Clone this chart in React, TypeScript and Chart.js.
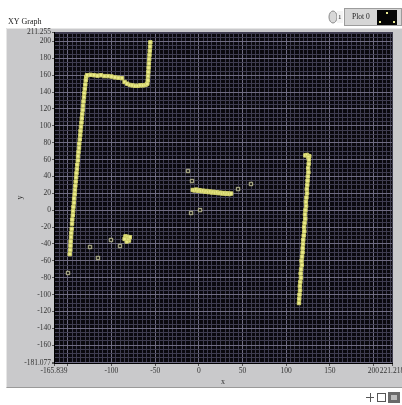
import { useEffect, useRef } from 'react';
import { Chart, registerables } from 'chart.js';

Chart.register(...registerables);

const X_MIN = -165.839;
const X_MAX = 221.218;
const Y_MIN = -181.077;
const Y_MAX = 211.255;

const xLabelValues = [-165.839, -100, -50, 0, 50, 100, 150, 200, 221.218];
const xTickMarkValues = [-165.839, -150, -100, -50, 0, 50, 100, 150, 200, 221.218];
const yLabelValues = [-181.077, -160, -140, -120, -100, -80, -60, -40, -20, 0, 20, 40, 60, 80, 100, 120, 140, 160, 180, 200, 211.255];

// Plot 0: the dense yellow traces
const leftWall: [number, number][] = [
  [-147.8, -52], [-147.2, -47], [-147.0, -42], [-146.8, -37], [-146.3, -32], [-146.0, -27], [-145.6, -22],
  [-145.2, -16], [-144.9, -11], [-144.3, -6], [-144.0, -1], [-143.6, 4], [-143.1, 9], [-142.8, 14],
  [-142.2, 19], [-141.9, 24], [-141.4, 29], [-141.0, 34], [-140.5, 39], [-140.1, 44], [-139.6, 49],
  [-139.2, 54], [-138.6, 59], [-138.3, 64], [-137.8, 69], [-137.2, 74], [-136.9, 79], [-136.3, 84],
  [-135.8, 89], [-135.5, 94], [-135.0, 99], [-134.4, 104], [-134.0, 109], [-133.5, 114], [-133.0, 119],
  [-132.6, 124], [-132.1, 129], [-131.5, 134], [-131.1, 139], [-130.6, 144], [-130.0, 149], [-129.5, 154],
  [-129.0, 158],
];
const topEdge: [number, number][] = [
  [-128, 160], [-124, 160.5], [-120, 160], [-116, 159.5], [-112, 160], [-108, 159], [-104, 159],
  [-100, 158.5], [-96, 157.5], [-92, 157], [-88, 156.5],
  [-85, 152], [-82, 150], [-79, 148.5], [-76, 148], [-73, 147.5], [-70, 147.5], [-67, 148], [-64, 148],
  [-61, 148.5], [-59, 150],
  [-58.5, 154], [-58.2, 159], [-57.8, 164], [-57.5, 169], [-57.2, 174], [-56.8, 179], [-56.5, 184],
  [-56.2, 189], [-55.8, 194], [-55.5, 199],
];
const blob: [number, number][] = [
  [-84, -31], [-83, -33], [-82, -35], [-81, -33], [-80, -36], [-82.5, -37], [-81.5, -31.5], [-80.5, -34],
  [-85, -34], [-79, -32],
];
const centerBand: [number, number][] = [
  [-7, 24], [-5, 23.5], [-3, 24.5], [-1, 23], [1, 23.8], [3, 22.5], [5, 23.2], [7, 22], [9, 22.8],
  [11, 21.5], [13, 22.2], [15, 21], [17, 21.8], [19, 20.8], [21, 21.3], [23, 20.2], [25, 20.8],
  [27, 19.8], [29, 20.4], [31, 19.5], [33, 20], [35, 19.2], [37, 19.8],
];
const rightWall: [number, number][] = [
  [122, 65], [124, 65.5], [126.5, 64], [125.5, 63], [126.0, 60], [125.8, 55], [125.2, 50], [125.5, 45],
  [124.8, 40], [124.5, 35], [124.2, 30], [123.6, 25], [123.9, 20], [123.2, 15], [122.6, 10], [122.8, 5],
  [122.1, 0], [121.6, -5], [121.9, -10], [121.1, -15], [120.6, -20], [120.8, -25], [120.1, -30],
  [119.6, -35], [119.3, -40], [118.9, -45], [118.8, -50], [118.2, -55], [117.6, -60], [117.9, -65],
  [117.1, -70], [116.6, -75], [116.9, -80], [116.2, -85], [115.7, -90], [115.9, -95], [115.3, -100],
  [115.0, -105], [114.7, -110],
];
// isolated outlier points
const strays: [number, number][] = [
  [-149.8, -74.4], [-124.6, -43.6], [-115.5, -56.6], [-100.6, -35.3], [-90.3, -42.4],
  [-12.4, 46.5], [-7.8, 34.6], [44.9, 25.1], [59.7, 31.1], [1.4, 0.2], [-8.9, -3.3],
];

const FONT = '"Liberation Serif", "DejaVu Serif", serif';

function fmt(v: number): string {
  return Number.isInteger(v) ? String(v) : v.toFixed(3);
}

function gridValues(min: number, max: number, step: number): number[] {
  const out = [min];
  for (let v = Math.ceil(min / step) * step; v <= max; v += step) {
    if (Math.abs(v - min) > 0.5 && Math.abs(v - max) > 0.5) out.push(v);
  }
  out.push(max);
  return out;
}

const panelPlugin = {
  id: 'lvPanel',
  beforeDraw(chart: any) {
    const { ctx, chartArea: a } = chart;
    ctx.save();
    ctx.fillStyle = '#ffffff';
    ctx.fillRect(0, 0, chart.width, chart.height);
    // grey front panel
    ctx.fillStyle = '#c9c9cb';
    ctx.fillRect(6, 28, 400, 360);
    ctx.strokeStyle = '#e6e6e6';
    ctx.beginPath();
    ctx.moveTo(6.5, 388);
    ctx.lineTo(6.5, 28.5);
    ctx.lineTo(402, 28.5);
    ctx.stroke();
    ctx.strokeStyle = '#9a9a9a';
    ctx.beginPath();
    ctx.moveTo(6.5, 387.5);
    ctx.lineTo(402, 387.5);
    ctx.stroke();
    // plot background
    ctx.fillStyle = '#0a090e';
    ctx.fillRect(a.left, a.top, a.right - a.left, a.bottom - a.top);
    // graph label
    ctx.fillStyle = '#222';
    ctx.font = `8px ${FONT}`;
    ctx.textBaseline = 'middle';
    ctx.textAlign = 'left';
    ctx.fillText('XY Graph', 8, 22);
    // plot index control
    ctx.fillStyle = '#d8d8d8';
    ctx.strokeStyle = '#8a8a8a';
    ctx.beginPath();
    ctx.ellipse(333, 17, 4, 6, 0, 0, Math.PI * 2);
    ctx.fill();
    ctx.stroke();
    ctx.fillStyle = '#f4f4f4';
    ctx.fillRect(337, 11, 6, 12);
    ctx.fillStyle = '#222';
    ctx.font = `7px ${FONT}`;
    ctx.fillText('1', 338, 17);
    // plot legend
    ctx.fillStyle = '#d6d6d6';
    ctx.fillRect(344, 8, 58, 18);
    ctx.strokeStyle = '#9c9c9c';
    ctx.strokeRect(344.5, 8.5, 57, 17);
    ctx.fillStyle = '#222';
    ctx.font = `7.5px ${FONT}`;
    ctx.fillText('Plot 0', 352, 17);
    ctx.fillStyle = '#050505';
    ctx.fillRect(377, 10, 20, 15);
    ctx.fillStyle = '#e8e890';
    ctx.fillRect(386, 12, 2, 2);
    ctx.fillRect(379, 21, 2, 2);
    ctx.fillRect(393, 21, 2, 2);
    // tool palette
    ctx.strokeStyle = '#555';
    ctx.beginPath();
    ctx.moveTo(366, 397.5); ctx.lineTo(374, 397.5);
    ctx.moveTo(370.5, 393); ctx.lineTo(370.5, 402);
    ctx.stroke();
    ctx.strokeRect(377.5, 393.5, 8, 8);
    ctx.fillStyle = '#6a6a6a';
    ctx.fillRect(388, 392, 12, 11);
    ctx.fillStyle = '#bbb';
    ctx.fillRect(391, 395, 6, 5);
    ctx.restore();
  },
};

export default function App() {
  const ref = useRef<HTMLCanvasElement>(null);

  useEffect(() => {
    if (!ref.current) return;
    const xGrid = gridValues(X_MIN, X_MAX, 5);
    const yGrid = gridValues(Y_MIN, Y_MAX, 5);
    const xLabels = new Set(xLabelValues);
    const xMarks = new Set(xTickMarkValues);
    const yLabels = new Set(yLabelValues);
    const yMarks = new Set([...yLabelValues, -180]);

    const yellowPts = [...leftWall, ...topEdge, ...blob, ...centerBand, ...rightWall].map(([x, y]) => ({ x, y }));
    const strayPts = strays.map(([x, y]) => ({ x, y }));

    const chart = new Chart(ref.current, {
      type: 'scatter',
      data: {
        datasets: [
          {
            label: 'strays',
            data: strayPts,
            pointStyle: 'rect',
            pointRadius: 2.4,
            borderWidth: 1,
            borderColor: '#bdbd95',
            backgroundColor: '#2a2a22',
          },
          {
            label: 'Plot 0',
            data: yellowPts,
            pointStyle: 'rect',
            pointRadius: 2.4,
            borderWidth: 1,
            borderColor: '#cfcf6a',
            backgroundColor: '#ecec8c',
          },
        ],
      },
      options: {
        animation: false,
        responsive: false,
        devicePixelRatio: 1,
        layout: { padding: { top: 32, left: 0, right: 10, bottom: 0 } },
        plugins: { legend: { display: false }, title: { display: false }, tooltip: { enabled: false } },
        scales: {
          x: {
            type: 'linear',
            min: X_MIN,
            max: X_MAX,
            afterBuildTicks: (s: any) => {
              s.ticks = xGrid.map((v) => ({ value: v }));
            },
            afterFit: (s: any) => {
              s.height = 42;
              s.paddingLeft = 0;
              s.paddingRight = 0;
            },
            grid: {
              color: (c: any) => {
                const v = c.tick ? c.tick.value : 0;
                return Math.abs(v % 50) < 1e-6 ? '#6f6c82' : '#3f3d50';
              },
              lineWidth: 1,
              tickLength: 3,
              tickColor: (c: any) => (c.tick && xMarks.has(c.tick.value) ? '#555' : 'rgba(0,0,0,0)'),
            },
            border: { display: true, color: '#000' },
            ticks: {
              autoSkip: false,
              maxRotation: 0,
              minRotation: 0,
              padding: 1,
              color: '#333',
              font: { family: FONT, size: 7.5 },
              callback: (v: any) => (xLabels.has(v) ? fmt(v) : ''),
            },
            title: {
              display: true,
              text: 'x',
              color: '#333',
              font: { family: FONT, size: 8 },
              padding: { top: 0, bottom: 18 },
            },
          },
          y: {
            type: 'linear',
            min: Y_MIN,
            max: Y_MAX,
            afterBuildTicks: (s: any) => {
              s.ticks = yGrid.map((v) => ({ value: v }));
            },
            afterFit: (s: any) => {
              s.width = 54;
              s.paddingTop = 0;
              s.paddingBottom = 0;
            },
            grid: {
              color: (c: any) => {
                const v = c.tick ? c.tick.value : 0;
                return Math.abs(v % 20) < 1e-6 ? '#6f6c82' : '#3f3d50';
              },
              lineWidth: 1,
              tickLength: 2,
              tickColor: (c: any) => (c.tick && yMarks.has(c.tick.value) ? '#555' : 'rgba(0,0,0,0)'),
            },
            border: { display: true, color: '#000' },
            ticks: {
              autoSkip: false,
              padding: 1,
              color: '#333',
              font: { family: FONT, size: 7.5 },
              callback: (v: any) => (yLabels.has(v) ? fmt(v) : ''),
            },
            title: {
              display: true,
              text: 'y',
              color: '#333',
              font: { family: FONT, size: 8 },
              padding: { top: 15, bottom: 0 },
            },
          },
        },
      },
      plugins: [panelPlugin],
    });
    return () => chart.destroy();
  }, []);

  return (
    <div style={{ position: 'absolute', left: 0, top: 0, width: 402, height: 405, overflow: 'hidden', background: '#fff' }}>
      <canvas ref={ref} width={402} height={405} style={{ width: 402, height: 405, display: 'block' }} />
    </div>
  );
}
